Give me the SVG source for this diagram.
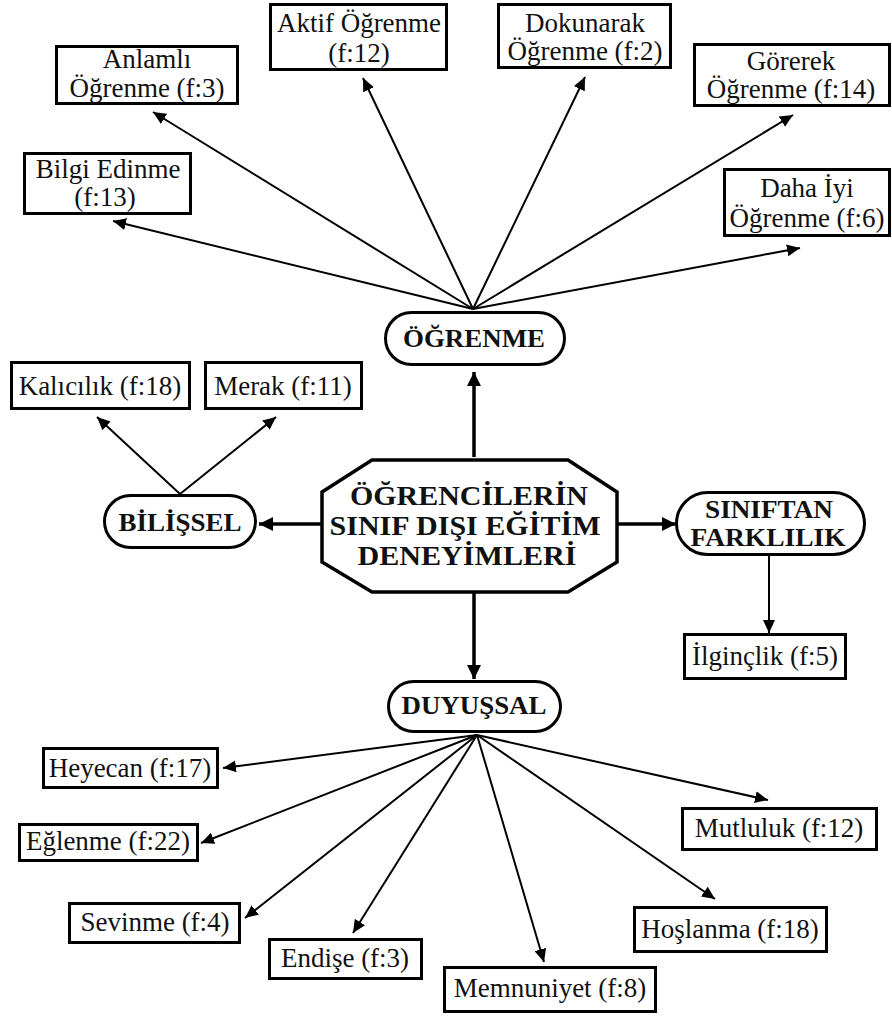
<svg xmlns="http://www.w3.org/2000/svg" width="892" height="1017" viewBox="0 0 892 1017">
<style>
.box{fill:#fff;stroke:#000;stroke-width:3}
.pill{fill:#fff;stroke:#000;stroke-width:3}
.t{font-family:"Liberation Serif","Times New Roman",serif;font-size:27px;fill:#111;text-anchor:middle}
.b{font-family:"Liberation Serif","Times New Roman",serif;font-weight:bold;font-size:26px;fill:#111;text-anchor:middle}
.c{font-family:"Liberation Serif","Times New Roman",serif;font-weight:bold;font-size:27px;fill:#111;text-anchor:middle}
.a{stroke:#000;stroke-width:2;fill:none;marker-end:url(#ah)}
.a2{stroke:#000;stroke-width:3.5;fill:none;marker-end:url(#ah2)}
</style>
<defs>
<marker id="ah" markerUnits="userSpaceOnUse" markerWidth="14" markerHeight="12" refX="13" refY="6" orient="auto"><path d="M0,0 L13,6 L0,12 z" fill="#000"/></marker>
<marker id="ah2" markerUnits="userSpaceOnUse" markerWidth="16" markerHeight="14" refX="14" refY="7" orient="auto"><path d="M0,0 L14,7 L0,14 z" fill="#000"/></marker>
</defs>
<rect width="892" height="1017" fill="#fff"/>
<g id="connectors">
<line class="a" x1="473" y1="309" x2="113" y2="221"/>
<line class="a" x1="473" y1="309" x2="153" y2="112"/>
<line class="a" x1="473" y1="309" x2="363" y2="78"/>
<line class="a" x1="473" y1="309" x2="585" y2="77"/>
<line class="a" x1="473" y1="309" x2="793" y2="115"/>
<line class="a" x1="473" y1="309" x2="800" y2="248"/>
<line class="a2" x1="474" y1="457" x2="474" y2="372"/>
<line class="a2" x1="321" y1="524" x2="259" y2="524"/>
<line class="a2" x1="618" y1="524" x2="676" y2="524"/>
<line class="a2" x1="474" y1="592" x2="474" y2="679"/>
<line class="a" x1="180" y1="494" x2="97" y2="417"/>
<line class="a" x1="180" y1="494" x2="276" y2="417"/>
<line class="a" x1="769" y1="556" x2="769" y2="633"/>
<line class="a" x1="477" y1="735" x2="223" y2="768"/>
<line class="a" x1="477" y1="735" x2="201" y2="843"/>
<line class="a" x1="477" y1="735" x2="245" y2="918"/>
<line class="a" x1="477" y1="735" x2="353" y2="933"/>
<line class="a" x1="477" y1="735" x2="544" y2="962"/>
<line class="a" x1="477" y1="735" x2="715" y2="899"/>
<line class="a" x1="477" y1="735" x2="768" y2="800"/>
</g>
<g id="center">
<polygon points="372,460 568,460 617,492 617,562 568,592 372,592 322,562 322,492" fill="#fff" stroke="#000" stroke-width="3.5"/>
<text class="c" x="469" y="505" textLength="238" lengthAdjust="spacingAndGlyphs">ÖĞRENCİLERİN</text>
<text class="c" x="465" y="535" textLength="271" lengthAdjust="spacingAndGlyphs">SINIF DIŞI EĞİTİM</text>
<text class="c" x="467" y="565" textLength="219" lengthAdjust="spacingAndGlyphs">DENEYİMLERİ</text>
</g>
<g id="ogrenme">
<rect class="pill" x="385.5" y="312.5" width="179" height="52" rx="26"/>
<text class="b" x="474" y="347" textLength="142" lengthAdjust="spacingAndGlyphs">ÖĞRENME</text>
</g>
<g id="bilissel">
<rect class="pill" x="104.5" y="495.5" width="151" height="52" rx="26"/>
<text class="b" x="180" y="531" textLength="123" lengthAdjust="spacingAndGlyphs">BİLİŞSEL</text>
</g>
<g id="siniftan">
<rect class="pill" x="676.5" y="492.5" width="188" height="62" rx="31"/>
<text class="b" x="769" y="518" textLength="128" lengthAdjust="spacingAndGlyphs">SINIFTAN</text>
<text class="b" x="768" y="546" textLength="155" lengthAdjust="spacingAndGlyphs">FARKLILIK</text>
</g>
<g id="duyussal">
<rect class="pill" x="388.5" y="681.5" width="172" height="50" rx="25"/>
<text class="b" x="474" y="714" textLength="145" lengthAdjust="spacingAndGlyphs">DUYUŞSAL</text>
</g>
<g id="bilgi">
<rect class="box" x="24.5" y="153.5" width="166" height="60"/>
<text class="t" x="108" y="178">Bilgi Edinme</text>
<text class="t" x="105" y="206">(f:13)</text>
</g>
<g id="anlamli">
<rect class="box" x="56.5" y="46.5" width="181" height="57"/>
<text class="t" x="147" y="68">Anlamlı</text>
<text class="t" x="147" y="97">Öğrenme (f:3)</text>
</g>
<g id="aktif">
<rect class="box" x="270.5" y="4.5" width="176" height="65"/>
<text class="t" x="359" y="32">Aktif Öğrenme</text>
<text class="t" x="359" y="62">(f:12)</text>
</g>
<g id="dokunarak">
<rect class="box" x="498.5" y="4.5" width="172" height="63"/>
<text class="t" x="585" y="32">Dokunarak</text>
<text class="t" x="585" y="60">Öğrenme (f:2)</text>
</g>
<g id="gorerek">
<rect class="box" x="694.5" y="44.5" width="195" height="61"/>
<text class="t" x="791" y="70">Görerek</text>
<text class="t" x="791" y="98">Öğrenme (f:14)</text>
</g>
<g id="dahaiyi">
<rect class="box" x="724.5" y="169.5" width="165" height="66"/>
<text class="t" x="807" y="197">Daha İyi</text>
<text class="t" x="807" y="227">Öğrenme (f:6)</text>
</g>
<g id="kalicilik">
<rect class="box" x="11.5" y="362.5" width="178" height="46"/>
<text class="t" x="100" y="395">Kalıcılık (f:18)</text>
</g>
<g id="merak">
<rect class="box" x="205.5" y="362.5" width="156" height="46"/>
<text class="t" x="283" y="395">Merak (f:11)</text>
</g>
<g id="ilginclik">
<rect class="box" x="684.5" y="634.5" width="161" height="44"/>
<text class="t" x="765" y="665">İlginçlik (f:5)</text>
</g>
<g id="heyecan">
<rect class="box" x="43.5" y="748.5" width="174" height="39"/>
<text class="t" x="130" y="777">Heyecan (f:17)</text>
</g>
<g id="eglenme">
<rect class="box" x="19.5" y="824.5" width="178" height="36"/>
<text class="t" x="108" y="850">Eğlenme (f:22)</text>
</g>
<g id="sevinme">
<rect class="box" x="69.5" y="903.5" width="170" height="39"/>
<text class="t" x="155" y="931">Sevinme (f:4)</text>
</g>
<g id="endise">
<rect class="box" x="269.5" y="939.5" width="152" height="39"/>
<text class="t" x="345" y="967">Endişe (f:3)</text>
</g>
<g id="memnuniyet">
<rect class="box" x="444.5" y="967.5" width="211" height="44"/>
<text class="t" x="550" y="997">Memnuniyet (f:8)</text>
</g>
<g id="hoslanma">
<rect class="box" x="634.5" y="907.5" width="192" height="44"/>
<text class="t" x="730" y="938">Hoşlanma (f:18)</text>
</g>
<g id="mutluluk">
<rect class="box" x="682.5" y="808.5" width="194" height="41"/>
<text class="t" x="779" y="837">Mutluluk (f:12)</text>
</g>
</svg>
